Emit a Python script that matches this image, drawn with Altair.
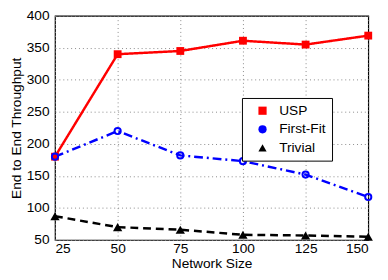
import altair as alt
import pandas as pd

network_size = [25, 50, 75, 100, 125, 150]
usp = [180, 340, 345, 361, 355, 369]
first_fit = [180, 220, 182, 173, 152, 117]
trivial = [87, 70, 66, 58, 57, 55]

series_names = ["USP", "First-Fit", "Trivial"]
series_colors = ["#ff0000", "#0000ff", "#000000"]
series_shapes = ["square", "circle", "triangle-up"]
series_dashes = [[1, 0], [9, 4, 2, 4], [8, 5]]
series_filled = [True, False, True]
series_sizes = [64, 40, 90]

rows = []
for name, vals in zip(series_names, [usp, first_fit, trivial]):
    for x, y in zip(network_size, vals):
        rows.append({"series": name, "x": x, "y": y})
df = pd.DataFrame(rows)

xenc = alt.X("x:Q", scale=alt.Scale(domain=[25, 150], nice=False),
             axis=alt.Axis(values=network_size, title="Network Size"))
yenc = alt.Y("y:Q", scale=alt.Scale(domain=[50, 400], nice=False),
             axis=alt.Axis(values=list(range(50, 401, 50)), title="End to End Throughput"))

layers = []
for name, col, dash in zip(series_names, series_colors, series_dashes):
    layers.append(
        alt.Chart(df).transform_filter(alt.datum.series == name)
        .mark_line(strokeWidth=2.5, color=col, strokeDash=dash)
        .encode(x=xenc, y=yenc)
    )
for name, col, shp, fil, sz in zip(series_names, series_colors, series_shapes, series_filled, series_sizes):
    layers.append(
        alt.Chart(df).transform_filter(alt.datum.series == name)
        .mark_point(shape=shp, filled=fil, size=sz, strokeWidth=2, color=col, opacity=1)
        .encode(x=xenc, y=yenc)
    )

leg_legend = alt.Legend(orient="none", legendX=191, legendY=84, title=None,
                        labelFontSize=14, labelFont="Liberation Sans", labelColor="black",
                        symbolStrokeWidth=2, symbolSize=70, symbolOffset=8,
                        rowPadding=5, padding=6, labelOffset=10,
                        strokeColor="black", fillColor="white")

leg = alt.Chart(df).transform_filter(alt.datum.x < 0).mark_point(
    opacity=1, filled=True, size=70).encode(
    x=xenc, y=yenc,
    color=alt.Color("series:N", scale=alt.Scale(domain=series_names, range=series_colors), legend=leg_legend),
    shape=alt.Shape("series:N", scale=alt.Scale(domain=series_names, range=series_shapes), legend=leg_legend),
)
layers.append(leg)

chart = alt.layer(*layers).properties(
    width=320, height=229,
    autosize=alt.AutoSizeParams(type="none"),
    padding={"left": 48, "top": 5, "right": 12, "bottom": 38},
).configure_view(stroke="black", strokeWidth=1.2).configure_axis(
    domain=False, ticks=False, grid=True, gridDash=[1, 3], gridColor="#888888", gridWidth=1,
    labelFont="Liberation Sans", labelFontSize=14, labelColor="black", labelPadding=6,
    labelOverlap=False,
    titleFont="Liberation Sans", titleFontSize=14, titleFontWeight="normal", titleColor="black",
).configure_axisY(titlePadding=3).configure_axisX(titlePadding=1, labelPadding=2)

chart.save("out.html", embed_options={"renderer": "svg", "actions": False})
